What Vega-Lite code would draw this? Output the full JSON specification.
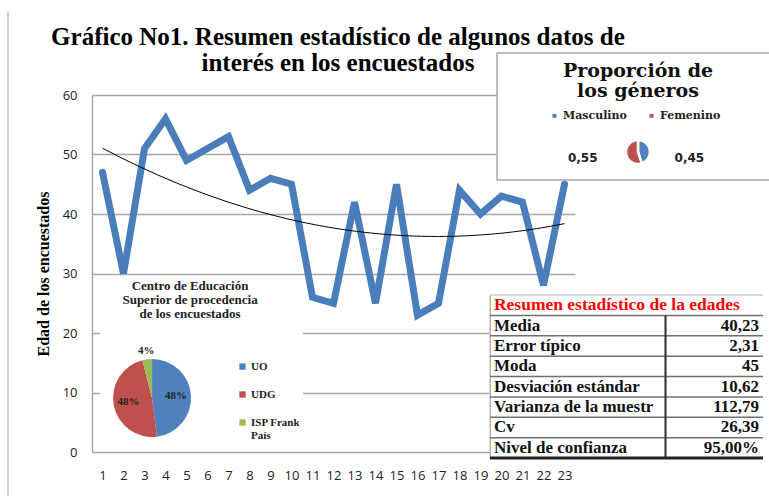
{
  "$schema": "https://vega.github.io/schema/vega-lite/v6.json",
  "width": 483,
  "height": 357,
  "autosize": {"type": "none"},
  "padding": {"left": 92, "top": 95, "right": 194, "bottom": 44},
  "background": "white",
  "config": {
    "view": {"stroke": null},
    "axisX": {"labelOverlap": false},
    "locale": {"number": {"decimal": ",", "thousands": ".", "grouping": [3], "currency": ["", " €"]}}
  },
  "datasets": {
    "edades": [
      {"n": 1, "edad": 47}, {"n": 2, "edad": 30}, {"n": 3, "edad": 51}, {"n": 4, "edad": 56},
      {"n": 5, "edad": 49}, {"n": 6, "edad": 51}, {"n": 7, "edad": 53}, {"n": 8, "edad": 44},
      {"n": 9, "edad": 46}, {"n": 10, "edad": 45}, {"n": 11, "edad": 26}, {"n": 12, "edad": 25},
      {"n": 13, "edad": 42}, {"n": 14, "edad": 25}, {"n": 15, "edad": 45}, {"n": 16, "edad": 23},
      {"n": 17, "edad": 25}, {"n": 18, "edad": 44}, {"n": 19, "edad": 40}, {"n": 20, "edad": 43},
      {"n": 21, "edad": 42}, {"n": 22, "edad": 28}, {"n": 23, "edad": 45}
    ],
    "centros": [
      {"centro": "UO", "pct": 0.48},
      {"centro": "UDG", "pct": 0.48},
      {"centro": "ISP Frank País", "pct": 0.04}
    ],
    "generos": [
      {"genero": "Masculino", "prop": 0.45},
      {"genero": "Femenino", "prop": 0.55}
    ],
    "resumen": [
      {"stat": "Resumen estadístico de la edades", "valor": ""},
      {"stat": "Media", "valor": "40,23"},
      {"stat": "Error típico", "valor": "2,31"},
      {"stat": "Moda", "valor": "45"},
      {"stat": "Desviación estándar", "valor": "10,62"},
      {"stat": "Varianza de la muestra", "valor": "112,79"},
      {"stat": "Cv", "valor": "26,39"},
      {"stat": "Nivel de confianza", "valor": "95,00%"}
    ]
  },
  "resolve": {"scale": {"y": "independent"}},
  "layer": [
    {
      "resolve": {"scale": {"color": "independent"}, "legend": {"color": "independent"}},
      "layer": [
        {
          "data": {"name": "edades"},
          "mark": {"type": "line", "color": "#4a7ebb", "strokeWidth": 7, "strokeJoin": "miter", "strokeCap": "round"},
          "encoding": {
            "x": {
              "field": "n", "type": "quantitative",
              "scale": {"domain": [0.5, 23.5], "nice": false, "zero": false},
              "axis": {
                "values": [1,2,3,4,5,6,7,8,9,10,11,12,13,14,15,16,17,18,19,20,21,22,23],
                "tickCount": 40, "format": "d",
                "grid": false, "ticks": false, "domain": false, "labelPadding": 17,
                "labelFont": "Open Sans", "labelFontSize": 13, "labelColor": "#222",
                "labelFlush": false, "labelOverlap": false, "labelBound": false, "title": null
              }
            },
            "y": {
              "field": "edad", "type": "quantitative",
              "scale": {"domain": [0, 60], "nice": false},
              "axis": {
                "values": [0, 10, 20, 30, 40, 50, 60],
                "tickCount": 10, "format": "d",
                "grid": true, "gridColor": "#a6a6a6", "gridWidth": 1.5,
                "ticks": false, "domain": true, "domainColor": "#a6a6a6", "domainWidth": 1.5,
                "labelPadding": 15, "labelFont": "Open Sans", "labelFontSize": 13, "labelColor": "#222",
                "title": "Edad de los encuestados", "titleFont": "Liberation Serif", "titleFontSize": 16,
                "titleFontWeight": "bold", "titleColor": "#000", "titlePadding": 11
              }
            }
          }
        },
        {
          "data": {"name": "edades"},
          "transform": [{"aggregate": [{"op": "count", "as": "k"}]}],
          "mark": {"type": "rule", "color": "#c4c4c4", "strokeWidth": 1.5},
          "encoding": {
            "x": {"datum": -3.5, "type": "quantitative"},
            "y": {"datum": 74, "type": "quantitative"},
            "y2": {"datum": -8}
          }
        },
        {
          "data": {"name": "edades"},
          "transform": [{"aggregate": [{"op": "count", "as": "k"}]}],
          "mark": {
            "type": "text", "text": ["Gráfico No1. Resumen estadístico de algunos datos de", "interés  en los encuestados"],
            "font": "Liberation Serif", "fontSize": 25, "fontWeight": "bold", "align": "center",
            "baseline": "alphabetic", "lineHeight": 26, "color": "#000"
          },
          "encoding": {
            "x": {"datum": 12.21, "type": "quantitative"},
            "y": {"datum": 68.4, "type": "quantitative"}
          }
        },
        {
          "data": {"name": "edades"},
          "transform": [{"regression": "edad", "on": "n", "method": "poly", "order": 2}],
          "mark": {"type": "line", "color": "#000", "strokeWidth": 1},
          "encoding": {
            "x": {"field": "n", "type": "quantitative"},
            "y": {"field": "edad", "type": "quantitative"}
          }
        },
        {
          "data": {"name": "centros"},
          "transform": [{"aggregate": [{"op": "count", "as": "k"}]}],
          "mark": {"type": "rect", "fill": "white"},
          "encoding": {
            "x": {"datum": 0.88, "type": "quantitative"},
            "x2": {"datum": 10.55},
            "y": {"datum": 29.4, "type": "quantitative"},
            "y2": {"datum": 0.5}
          }
        },
        {
          "data": {"name": "centros"},
          "transform": [{"aggregate": [{"op": "count", "as": "k"}]}],
          "mark": {
            "type": "text", "text": ["Centro de Educación", "Superior de procedencia", "de los encuestados"],
            "font": "Liberation Serif", "fontSize": 13, "fontWeight": "bold", "align": "center",
            "baseline": "alphabetic", "lineHeight": 14, "color": "#222"
          },
          "encoding": {
            "x": {"datum": 5.17, "type": "quantitative"},
            "y": {"datum": 27.2, "type": "quantitative"}
          }
        },
        {
          "data": {"name": "centros"},
          "transform": [{"window": [{"op": "row_number", "as": "orden"}]}],
          "mark": {"type": "arc", "outerRadius": 39},
          "encoding": {
            "theta": {"field": "pct", "type": "quantitative", "stack": true},
            "order": {"field": "orden", "type": "quantitative"},
            "color": {
              "field": "centro", "type": "nominal",
              "scale": {"domain": ["UO", "UDG", "ISP Frank País"], "range": ["#4f81bd", "#c0504d", "#9bbb59"]},
              "legend": {
                "orient": "none", "legendX": 145, "legendY": 266, "direction": "vertical", "title": null,
                "symbolType": "square", "symbolSize": 40, "labelFont": "Liberation Serif", "labelFontSize": 11,
                "labelFontWeight": "bold", "labelColor": "#222", "rowPadding": 16, "labelOffset": 3,
                "labelExpr": "datum.label == 'ISP Frank País' ? ['ISP Frank', 'País'] : datum.label"
              }
            },
            "x": {"datum": 3.36, "type": "quantitative"},
            "y": {"datum": 9.08, "type": "quantitative"}
          }
        },
        {
          "data": {"name": "centros"},
          "transform": [{"window": [{"op": "row_number", "as": "orden"}]}],
          "mark": {"type": "text", "radius": 24, "font": "Liberation Serif", "fontSize": 11, "fontWeight": "bold", "color": "#222"},
          "encoding": {
            "theta": {"field": "pct", "type": "quantitative", "stack": true},
            "order": {"field": "orden", "type": "quantitative"},
            "text": {"field": "pct", "type": "quantitative", "format": ".0%"},
            "opacity": {"condition": {"test": "datum.centro == 'ISP Frank País'", "value": 0}, "value": 1},
            "x": {"datum": 3.36, "type": "quantitative"},
            "y": {"datum": 9.08, "type": "quantitative"}
          }
        },
        {
          "data": {"name": "centros"},
          "transform": [{"window": [{"op": "row_number", "as": "orden"}]}],
          "mark": {"type": "text", "radius": 47, "font": "Liberation Serif", "fontSize": 11, "fontWeight": "bold", "color": "#222"},
          "encoding": {
            "theta": {"field": "pct", "type": "quantitative", "stack": true},
            "order": {"field": "orden", "type": "quantitative"},
            "text": {"field": "pct", "type": "quantitative", "format": ".0%"},
            "opacity": {"condition": {"test": "datum.centro == 'ISP Frank País'", "value": 1}, "value": 0},
            "x": {"datum": 3.36, "type": "quantitative"},
            "y": {"datum": 9.08, "type": "quantitative"}
          }
        },
        {
          "data": {"name": "generos"},
          "transform": [{"aggregate": [{"op": "count", "as": "k"}]}],
          "mark": {"type": "rect", "fill": "white", "stroke": "#a6a6a6", "strokeWidth": 1.5},
          "encoding": {
            "x": {"datum": 19.79, "type": "quantitative"},
            "x2": {"datum": 33},
            "y": {"datum": 67.06, "type": "quantitative"},
            "y2": {"datum": 45.71}
          }
        },
        {
          "data": {"name": "generos"},
          "transform": [{"aggregate": [{"op": "count", "as": "k"}]}],
          "mark": {
            "type": "text", "text": ["Proporción  de", "los géneros"],
            "font": "DejaVu Serif", "fontSize": 19, "fontWeight": "bold", "align": "center",
            "baseline": "alphabetic", "lineHeight": 20, "color": "#111"
          },
          "encoding": {
            "x": {"datum": 26.5, "type": "quantitative"},
            "y": {"datum": 63.08, "type": "quantitative"}
          }
        },
        {
          "data": {"name": "generos"},
          "transform": [{"window": [{"op": "row_number", "as": "orden"}]}],
          "mark": {"type": "arc", "outerRadius": 12, "stroke": "white", "strokeWidth": 2.5},
          "encoding": {
            "theta": {"field": "prop", "type": "quantitative", "stack": true},
            "order": {"field": "orden", "type": "quantitative"},
            "color": {
              "field": "genero", "type": "nominal",
              "scale": {"domain": ["Masculino", "Femenino"], "range": ["#4f81bd", "#c0504d"]},
              "legend": {
                "orient": "none", "legendX": 457, "legendY": 15, "direction": "horizontal", "title": null,
                "symbolType": "square", "symbolSize": 30, "labelFont": "DejaVu Serif", "labelFontSize": 11,
                "labelFontWeight": "bold", "labelColor": "#222", "columnPadding": 18, "labelOffset": 3
              }
            },
            "x": {"datum": 26.5, "type": "quantitative"},
            "y": {"datum": 50.42, "type": "quantitative"}
          }
        },
        {
          "data": {"name": "generos"},
          "transform": [{"window": [{"op": "row_number", "as": "orden"}]}],
          "mark": {"type": "text", "radius": 56, "dy": -3, "font": "DejaVu Sans", "fontSize": 12, "fontWeight": "bold", "color": "#222"},
          "encoding": {
            "theta": {"field": "prop", "type": "quantitative", "stack": true},
            "order": {"field": "orden", "type": "quantitative"},
            "text": {"field": "prop", "type": "quantitative", "format": ".2f"},
            "opacity": {"condition": {"test": "datum.genero == 'Femenino'", "value": 1}, "value": 0},
            "x": {"datum": 26.5, "type": "quantitative"},
            "y": {"datum": 50.42, "type": "quantitative"}
          }
        },
        {
          "data": {"name": "generos"},
          "transform": [{"window": [{"op": "row_number", "as": "orden"}]}],
          "mark": {"type": "text", "radius": 52, "dy": 14, "font": "DejaVu Sans", "fontSize": 12, "fontWeight": "bold", "color": "#222"},
          "encoding": {
            "theta": {"field": "prop", "type": "quantitative", "stack": true},
            "order": {"field": "orden", "type": "quantitative"},
            "text": {"field": "prop", "type": "quantitative", "format": ".2f"},
            "opacity": {"condition": {"test": "datum.genero == 'Masculino'", "value": 1}, "value": 0},
            "x": {"datum": 26.5, "type": "quantitative"},
            "y": {"datum": 50.42, "type": "quantitative"}
          }
        }
      ]
    },
    {
      "data": {"name": "resumen"},
      "layer": [
        {
          "mark": {"type": "rect", "fill": "white"},
          "encoding": {
            "x": {"datum": 19.45, "type": "quantitative"},
            "x2": {"datum": 33},
            "y": {"field": "stat", "type": "nominal", "axis": null,
                  "scale": {"type": "band", "domain": ["Resumen estadístico de la edades", "Media", "Error típico", "Moda", "Desviación estándar", "Varianza de la muestra", "Cv", "Nivel de confianza"], "range": [200, 363], "paddingInner": 0, "paddingOuter": 0}}
          }
        },
        {
          "mark": {"type": "rect", "fill": "#b4b4b4"},
          "encoding": {
            "x": {"datum": 19.43, "type": "quantitative"},
            "x2": {"datum": 19.5},
            "y": {"field": "stat", "type": "nominal", "axis": null}
          }
        },
        {
          "mark": {"type": "rule", "strokeWidth": 1.5},
          "encoding": {
            "x": {"datum": 19.45, "type": "quantitative"},
            "x2": {"datum": 32.45},
            "y": {"field": "stat", "type": "nominal", "axis": null, "bandPosition": 0},
            "color": {"condition": {"test": "datum.stat == 'Resumen estadístico de la edades'", "value": "#cccccc"}, "value": "#707070"}
          }
        },
        {
          "transform": [{"filter": "datum.stat != 'Resumen estadístico de la edades'"}],
          "mark": {"type": "rect", "fill": "#333333"},
          "encoding": {
            "x": {"datum": 27.76, "type": "quantitative"},
            "x2": {"datum": 27.86},
            "y": {"field": "stat", "type": "nominal", "axis": null}
          }
        },
        {
          "transform": [{"filter": "datum.stat == 'Nivel de confianza'"}],
          "mark": {"type": "rule", "strokeWidth": 3, "color": "#222"},
          "encoding": {
            "x": {"datum": 19.45, "type": "quantitative"},
            "x2": {"datum": 32.45},
            "y": {"field": "stat", "type": "nominal", "axis": null, "bandPosition": 1}
          }
        },
        {
          "transform": [{"filter": "datum.stat == 'Resumen estadístico de la edades'"}],
          "mark": {"type": "text", "align": "left", "baseline": "middle", "font": "Liberation Serif", "fontSize": 17.5, "fontWeight": "bold", "color": "#ff0000"},
          "encoding": {
            "x": {"datum": 19.64, "type": "quantitative"},
            "y": {"field": "stat", "type": "nominal", "axis": null},
            "text": {"field": "stat"}
          }
        },
        {
          "transform": [{"filter": "datum.stat != 'Resumen estadístico de la edades'"}],
          "mark": {"type": "text", "align": "left", "baseline": "middle", "font": "Liberation Serif", "fontSize": 17, "fontWeight": "bold", "color": "#111", "limit": 167, "ellipsis": "\u200b"},
          "encoding": {
            "x": {"datum": 19.64, "type": "quantitative"},
            "y": {"field": "stat", "type": "nominal", "axis": null},
            "text": {"field": "stat"}
          }
        },
        {
          "mark": {"type": "text", "align": "right", "baseline": "middle", "font": "Liberation Serif", "fontSize": 17, "fontWeight": "bold", "color": "#111"},
          "encoding": {
            "x": {"datum": 32.26, "type": "quantitative"},
            "y": {"field": "stat", "type": "nominal", "axis": null},
            "text": {"field": "valor"}
          }
        }
      ]
    }
  ]
}
